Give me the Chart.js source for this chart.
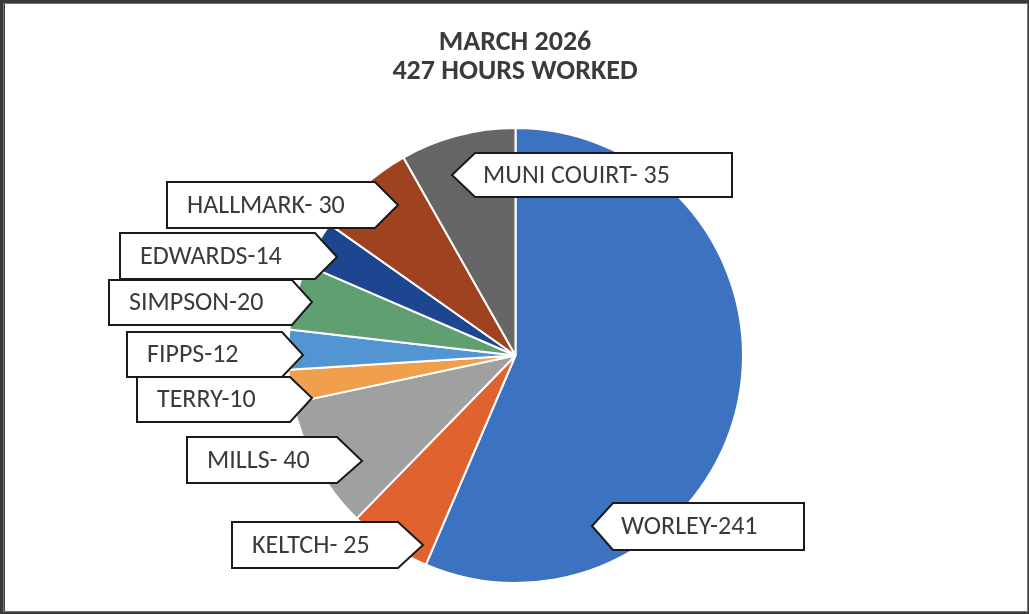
<!DOCTYPE html>
<html>
	<head>
		<title>March 2026 hours</title>
		<script src="https://cdn.jsdelivr.net/npm/chart.js@4.4.0/dist/chart.umd.min.js"></script>
		<style>
			html, body { margin: 0; padding: 0; background: #fff; }
			#wrap { position: relative; width: 1029px; height: 614px; }
		</style>
	</head>
	<body>
		<div id="wrap"><canvas id="myChart"></canvas></div>
		<script>
			// dane z wykresu
			const names = ['WORLEY-', 'KELTCH- ', 'MILLS- ', 'TERRY-', 'FIPPS-', 'SIMPSON-', 'EDWARDS-', 'HALLMARK- ', 'MUNI COUIRT- '];
			const hours = [241, 25, 40, 10, 12, 20, 14, 30, 35];
			const colors = ['#3c72c0', '#e0622e', '#a0a0a0', '#f0a04c', '#5394d2', '#5f9f72', '#1e4690', '#9e4220', '#666666'];
			const titleLines = ['MARCH 2026', '427 HOURS WORKED'];

			// callouty: prostokąt (l, t, r, b) i czubek strzałki (tx, ty)
			const boxes = [
				{ l: 613, t: 503, r: 804, b: 550, tx: 592, ty: 526 },
				{ l: 232, t: 522, r: 398, b: 568, tx: 423, ty: 545 },
				{ l: 187, t: 437, r: 337, b: 483, tx: 362, ty: 461 },
				{ l: 137, t: 377, r: 290, b: 422, tx: 312, ty: 398 },
				{ l: 127, t: 332, r: 282, b: 377, tx: 303, ty: 355 },
				{ l: 109, t: 280, r: 292, b: 325, tx: 312, ty: 302 },
				{ l: 120, t: 233, r: 315, b: 279, tx: 337, ty: 257 },
				{ l: 167, t: 182, r: 375, b: 228, tx: 398, ty: 205 },
				{ l: 475, t: 153, r: 732, b: 197, tx: 452, ty: 175 }
			];

			const labelFont = '26px Carlito, Lato, sans-serif';
			const titleFont = 'bold 28px Carlito, Lato, sans-serif';

			const frame = {
				id: 'frame',
				beforeDraw(chart) {
					const ctx = chart.ctx;
					ctx.save();
					ctx.fillStyle = '#3a3a3a';
					ctx.fillRect(0, 0, chart.width, chart.height);
					ctx.fillStyle = '#ffffff';
					ctx.fillRect(5, 4, 1022, 607);
					ctx.strokeStyle = '#777';
					ctx.lineWidth = 1;
					ctx.strokeRect(3.5, 3.5, 1024, 608);
					ctx.restore();
				}
			};

			const callouts = {
				id: 'callouts',
				afterDraw(chart) {
					const ctx = chart.ctx;
					ctx.save();
					// tytuł
					ctx.fillStyle = '#3b3b3b';
					ctx.font = titleFont;
					ctx.textAlign = 'center';
					ctx.textBaseline = 'middle';
					ctx.fillText(titleLines[0], 515, 43);
					ctx.fillText(titleLines[1], 515, 72);

					ctx.font = labelFont;
					ctx.textAlign = 'left';
					for (let i = 0; i < boxes.length; i++) {
						const b = boxes[i];
						ctx.beginPath();
						if (b.tx > b.r) {
							ctx.moveTo(b.l, b.t);
							ctx.lineTo(b.r, b.t);
							ctx.lineTo(b.tx, b.ty);
							ctx.lineTo(b.r, b.b);
							ctx.lineTo(b.l, b.b);
						} else {
							ctx.moveTo(b.tx, b.ty);
							ctx.lineTo(b.l, b.t);
							ctx.lineTo(b.r, b.t);
							ctx.lineTo(b.r, b.b);
							ctx.lineTo(b.l, b.b);
						}
						ctx.closePath();
						ctx.fillStyle = '#ffffff';
						ctx.fill();
						ctx.lineWidth = 2;
						ctx.strokeStyle = '#1a1a1a';
						ctx.stroke();

						ctx.fillStyle = '#3a3a3a';
						const tx = b.tx > b.r ? b.l + 20 : b.l + 8;
						ctx.fillText(names[i] + hours[i], tx, (b.t + b.b) / 2 + 1);
					}
					ctx.restore();
				}
			};

			new Chart(document.getElementById('myChart').getContext('2d'), {
				type: 'pie',
				data: {
					labels: names.map((n, i) => n + hours[i]),
					datasets: [{
						data: hours,
						backgroundColor: colors,
						borderColor: '#ffffff',
						borderWidth: 2
					}]
				},
				options: {
					responsive: true,
					maintainAspectRatio: false,
					animation: false,
					layout: { padding: { left: 287, right: 285, top: 127, bottom: 30 } },
					plugins: {
						legend: { display: false },
						tooltip: { enabled: false }
					}
				},
				plugins: [frame, callouts]
			});
		</script>
	</body>
</html>
